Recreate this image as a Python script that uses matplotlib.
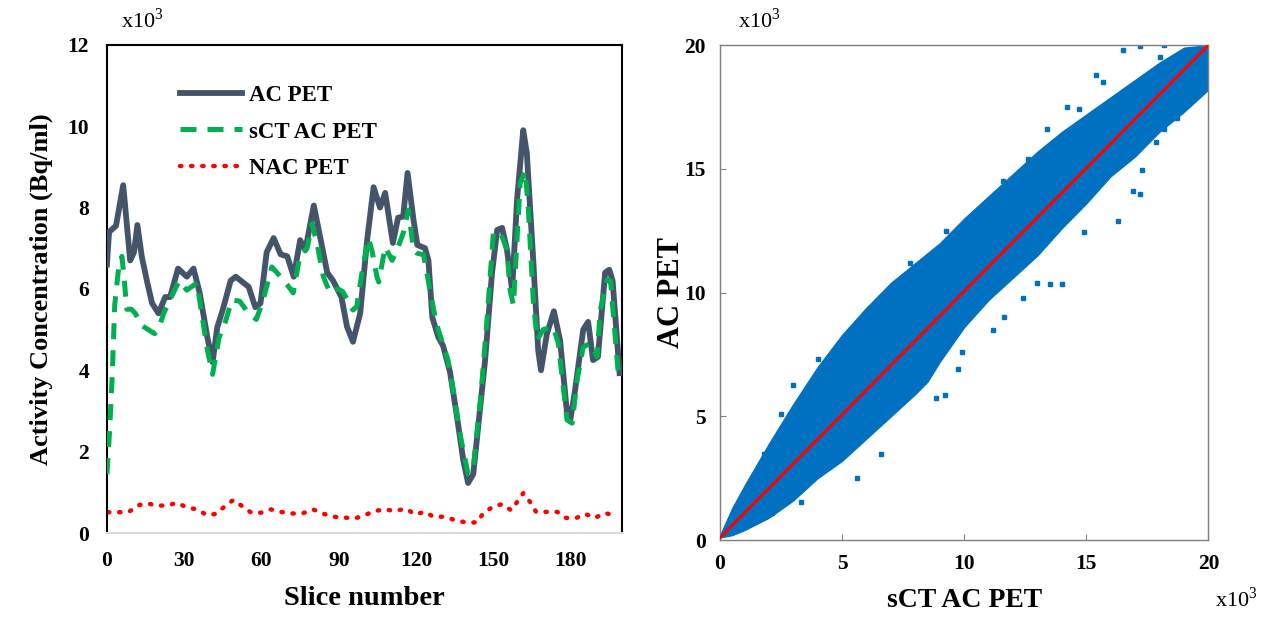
import numpy as np
import matplotlib.pyplot as plt

plt.rcParams['font.family'] = ['Liberation Serif', 'DejaVu Serif']
plt.rcParams['mathtext.fontset'] = 'custom'
plt.rcParams['mathtext.rm'] = 'Liberation Serif'

#===========================
# DATA (values in x10^3)
#===========================
#***** left panel : profiles along slices *****
acX = [0, 0.8, 3.5, 6.3, 9, 10.5, 11.8, 13.5, 15.5, 17.5, 20, 22.6, 24.5, 27.6, 31, 33.6,
       36, 39, 41, 42.8, 45, 48, 50, 53, 55, 57.6, 59.6, 62, 64.7, 67.4, 70, 72.5, 75,
       77, 80.3, 83, 85.5, 87.8, 91, 93.2, 95.5, 98.3, 101, 103.5, 106, 108, 111, 113,
       115, 116.7, 119, 120.5, 123.5, 124.8, 126.3, 128.6, 130.5, 133.2, 135.9, 138.3,
       140.2, 142.2, 144.1, 146.8, 149.5, 151.5, 153.4, 155.3, 157.3, 159.2, 161.6, 163,
       165.5, 167.4, 168.5, 170.8, 173.5, 175.9, 178.6, 179.8, 181.7, 184.9, 186.8,
       188.7, 190.6, 193.4, 195, 196.3, 199]
acY = [6.6, 7.4, 7.55, 8.55, 6.7, 6.9, 7.57, 6.8, 6.2, 5.65, 5.4, 5.8, 5.8, 6.5, 6.3, 6.5,
       5.9, 4.8, 4.2, 5.05, 5.5, 6.2, 6.3, 6.15, 6.05, 5.55, 5.65, 6.9, 7.25, 6.85, 6.8,
       6.3, 7.2, 6.95, 8.05, 7.2, 6.4, 6.2, 5.8, 5.07, 4.7, 5.4, 7.2, 8.5, 8.0, 8.36,
       7.13, 7.75, 7.78, 8.85, 7.7, 7.08, 7.0, 6.7, 5.3, 4.82, 4.6, 3.95, 2.85, 1.8,
       1.23, 1.45, 2.6, 4.25, 6.4, 7.45, 7.5, 6.96, 5.97, 8.19, 9.9, 9.34, 6.7, 4.5,
       4.0, 4.9, 5.45, 4.74, 2.95, 2.75, 3.5, 5.0, 5.19, 4.25, 4.33, 6.4, 6.47, 6.2, 3.93]

sctX = [0, 1, 2, 3, 4.5, 5.8, 6.6, 7.7, 9.5, 11, 13.5, 16, 18.5, 20, 22, 25, 28, 31, 35,
        36.5, 39, 41, 43.5, 46, 48.5, 51.5, 55, 58, 60.5, 64, 66, 70, 72.3, 75, 77.7,
        79.6, 81.6, 84, 86.6, 89.7, 91.6, 95.5, 97, 99, 101.5, 103, 104.8, 105.5, 108,
        110.7, 112.6, 115, 117, 119, 120.3, 122.9, 125.4, 127.4, 128.6, 132.4, 134.4,
        137, 140.2, 142.2, 145, 147.6, 150, 152.7, 155.3, 156.5, 157.8, 160.4, 162.4,
        163.6, 165.5, 167, 169.3, 173.2, 175.2, 178.6, 180.6, 182.5, 184.9, 187.6,
        190.3, 191.5, 194.2, 195.5, 198.4]
sctY = [1.45, 2.5, 3.8, 5.6, 6.5, 6.8, 6.3, 5.5, 5.5, 5.4, 5.1, 5.0, 4.9, 5.0, 5.4, 5.8,
        6.2, 5.97, 6.15, 5.5, 4.5, 3.9, 4.8, 5.2, 5.73, 5.7, 5.4, 5.25, 5.7, 6.54, 6.4,
        6.1, 5.9, 6.85, 7.0, 7.6, 7.1, 6.3, 5.9, 6.0, 5.93, 5.48, 5.57, 6.4, 7.25, 6.9,
        6.3, 6.17, 7.03, 6.7, 6.96, 7.37, 7.94, 6.96, 6.88, 6.84, 5.97, 5.3, 5.0, 4.25,
        3.5, 2.45, 1.45, 1.6, 3.27, 5.3, 7.37, 7.4, 6.96, 5.97, 5.6, 8.6, 8.9, 7.94,
        5.73, 4.74, 5.0, 5.07, 4.67, 2.78, 2.7, 3.76, 4.57, 4.67, 4.33, 5.48, 6.22, 6.2, 4.0]

nacX = [0.4, 4.3, 8.5, 12, 15.6, 19.5, 23.4, 27.3, 31, 35, 38.8, 42.3, 45.8, 49, 52.5, 56,
        59.8, 63.6, 67.5, 71.8, 75.8, 80, 83.8, 87.8, 92, 96.3, 100.2, 103.7, 108, 111.8,
        116, 119.6, 123.5, 126.7, 130.9, 135, 139.4, 143.7, 146, 149.9, 153.4, 156.9,
        159.2, 161.6, 164.3, 166.6, 170.5, 174.8, 178.3, 182.2, 185.6, 189.5, 193, 197.3]
nacY = [0.51, 0.51, 0.52, 0.68, 0.73, 0.67, 0.68, 0.74, 0.63, 0.58, 0.44, 0.47, 0.66, 0.81,
        0.66, 0.5, 0.5, 0.58, 0.52, 0.48, 0.48, 0.58, 0.48, 0.4, 0.38, 0.36, 0.44, 0.54,
        0.58, 0.54, 0.6, 0.46, 0.52, 0.4, 0.4, 0.32, 0.26, 0.26, 0.48, 0.65, 0.71, 0.56,
        0.76, 0.98, 0.76, 0.52, 0.52, 0.52, 0.37, 0.37, 0.47, 0.37, 0.49, 0.44]

#***** right panel : voxel cloud (edges of the dense band) *****
cloudX  = [0, 0.5, 1, 2, 3, 4, 5, 6, 7, 8, 8.5, 9, 10, 11, 12, 13, 14, 15, 16, 17, 18, 19, 20]
cloudHi = [0.2, 1.3, 2.2, 3.9, 5.5, 7.0, 8.3, 9.4, 10.4, 11.2, 11.6, 12.0, 13.0, 13.9, 14.8,
           15.7, 16.5, 17.2, 17.9, 18.6, 19.3, 19.9, 20.0]
cloudLo = [0.1, 0.2, 0.4, 0.9, 1.6, 2.5, 3.2, 4.1, 5.0, 5.9, 6.4, 7.2, 8.6, 9.7, 10.6, 11.5,
           12.6, 13.6, 14.7, 15.5, 16.5, 17.3, 18.2]
# scattered voxels outside the band
outX = [17.2, 16.9, 16.3, 14.9, 14.0, 13.5, 13.0, 12.4, 11.2, 11.65, 9.9, 9.75, 9.2, 8.85,
        9.25, 7.8, 7.3, 6.3, 5.3, 4.0, 3.0, 2.5, 1.8, 5.6, 6.6, 3.3, 2.15, 15.4, 15.7, 16.5,
        17.2, 18.0, 18.2, 14.7, 14.2, 13.4, 12.6, 11.6, 19.8, 19.5, 18.7, 18.2, 17.85, 19.0,
        17.3]
outY = [14.0, 14.1, 12.9, 12.45, 10.35, 10.35, 10.4, 9.8, 8.5, 9.0, 7.6, 6.9, 5.85, 5.75,
        12.5, 11.2, 10.3, 8.3, 8.3, 7.3, 6.25, 5.1, 3.5, 2.5, 3.5, 1.56, 1.08, 18.8, 18.5,
        19.8, 19.95, 19.5, 20.0, 17.4, 17.5, 16.6, 15.4, 14.5, 18.7, 17.9, 17.05, 16.6, 16.1,
        18.2, 14.95]
fitX = [0, 20]
fitY = [0.1, 20]

sliceTicks = [0, 30, 60, 90, 120, 150, 180]

#=======================================================
#                     PLOTS
#=======================================================
fig = plt.figure(figsize=(12.72, 6.18), dpi=100)

#****************************
#  PROFILES
#****************************
A = fig.add_axes([0.0841, 0.1375, 0.405, 0.790])
A.plot(nacX, nacY, color='#FF0000', lw=3.2, dashes=(0.3, 2.2), dash_capstyle='round',
       label='NAC PET', zorder=2)
A.plot(acX, acY, color='#44546A', lw=4.2, solid_joinstyle='round', label='AC PET', zorder=3)
A.plot(sctX, sctY, color='#00B050', lw=3.6, dashes=(3.2, 2.2), label='sCT AC PET', zorder=4)
A.set_xlim(0, 200)
A.set_ylim(0, 12)
A.set_xticks(sliceTicks)
A.set_yticks(range(0, 13, 2))
A.tick_params(length=0, labelsize=15.5, pad=13)
for lb in A.get_xticklabels() + A.get_yticklabels():
    lb.set_fontweight('bold')
for s in ['left', 'top', 'right']:
    A.spines[s].set_color('black')
    A.spines[s].set_linewidth(1.5)
A.spines['bottom'].set_color('#D9D9D9')
A.spines['bottom'].set_linewidth(1.5)
A.set_xlabel('Slice number', fontsize=20.5, fontweight='bold', labelpad=11)
A.set_ylabel('Activity Concentration (Bq/ml)', fontsize=19, fontweight='bold', labelpad=10)
h, l = A.get_legend_handles_labels()
A.legend([h[1], h[2], h[0]], [l[1], l[2], l[0]], loc='upper left',
         bbox_to_anchor=(0.142, 0.918), frameon=False, borderpad=0, borderaxespad=0,
         handlelength=2.7, handletextpad=0.3, labelspacing=0.68,
         prop={'size': 16.5, 'weight': 'bold'})
fig.text(0.112, 0.967, 'x10$^3$', fontsize=16, ha='center', va='center')

#****************************
#  SCATTER sCT vs AC
#****************************
B = fig.add_axes([0.566, 0.126, 0.384, 0.801])
B.fill_between(cloudX, cloudLo, cloudHi, color='#0070C0', lw=0.8, edgecolor='#0070C0', zorder=2)
B.plot(outX, outY, ls='none', marker='s', ms=2.6, color='#0070C0', zorder=2)
B.plot(fitX, fitY, color='#FF0000', lw=2.2, zorder=3)
B.set_xlim(0, 20)
B.set_ylim(0, 20)
B.set_xticks(range(0, 21, 5))
B.set_yticks(range(0, 21, 5))
B.tick_params(direction='in', length=4, color='#7F7F7F', labelsize=15.5, pad=10)
for lb in B.get_xticklabels() + B.get_yticklabels():
    lb.set_fontweight('bold')
for s in B.spines.values():
    s.set_color('#7F7F7F')
    s.set_linewidth(1.0)
B.set_xlabel('sCT AC PET', fontsize=20, fontweight='bold', labelpad=10)
B.set_ylabel('AC PET', fontsize=22, fontweight='bold', labelpad=-1)
fig.text(0.597, 0.967, 'x10$^3$', fontsize=16, ha='center', va='center')
fig.text(0.972, 0.03, 'x10$^3$', fontsize=16, ha='center', va='center')

fig.savefig('out.png', dpi=100)
